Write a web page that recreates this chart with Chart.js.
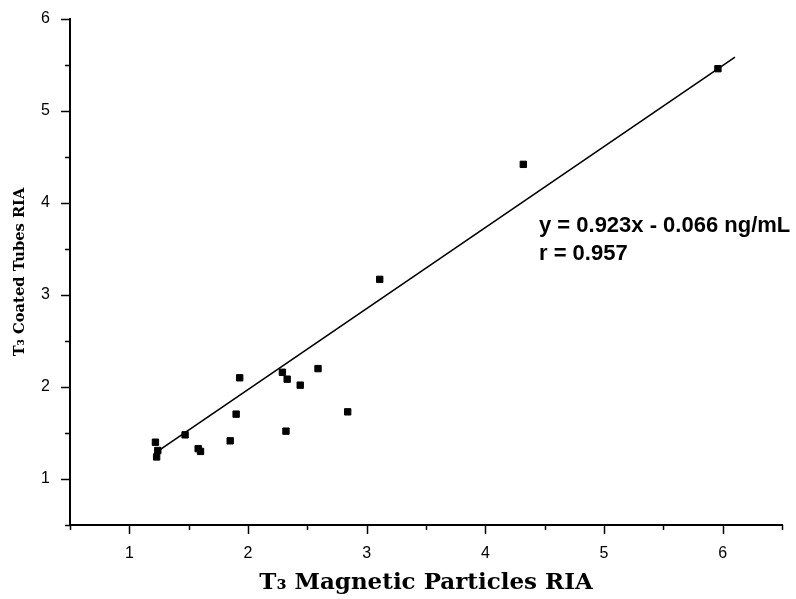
<!DOCTYPE html>
<html><head><meta charset="utf-8">
<script src="https://cdn.jsdelivr.net/npm/chart.js@4.4.1/dist/chart.umd.min.js"></script>
<style>html,body{margin:0;padding:0;background:#fff}#wrap{width:796px;height:599px}</style>
</head><body><div id="wrap"><canvas id="c" width="796" height="599"></canvas></div>
<script>
// ---- data ----
const magneticX = [1.22, 1.24, 1.23, 1.47, 1.58, 1.60, 1.85, 1.90, 1.93, 2.29, 2.33, 2.44, 2.59, 2.32, 2.84, 3.11, 4.32, 5.96];
const coatedY   = [1.40, 1.31, 1.24, 1.48, 1.33, 1.30, 1.415, 1.705, 2.10, 2.16, 2.085, 2.02, 2.20, 1.52, 1.73, 3.17, 4.42, 5.46];
const fitX = [1.228, 6.104];
const fitY = [1.293, 5.585];
const xRange = [0.5, 6.5];
const yRange = [0.5, 6];
const tickStep = 0.5;
const equationLines = ["y = 0.923x - 0.066 ng/mL", "r = 0.957"];
const equationAnchor = [4.452, 3.755, 3.45]; // x value, y value of line 1, y value of line 2
const xTitle = "T\u2083 Magnetic Particles RIA";
const yTitle = "T\u2083 Coated Tubes RIA";

const points = magneticX.map((x, i) => ({x, y: coatedY[i]}));
const fitLine = fitX.map((x, i) => ({x, y: fitY[i]}));

const tickPlugin = {
  id: 'outTicks',
  afterDraw(chart) {
    const ctx = chart.ctx;
    const xs = chart.scales.x, ys = chart.scales.y;
    ctx.save();
    ctx.strokeStyle = '#000';
    ctx.lineWidth = 1.5;
    xs.ticks.forEach(t => {
      const p = Math.round(xs.getPixelForValue(t.value)) + 0.5;
      const len = Number.isInteger(t.value) ? 9 : 5;
      ctx.beginPath(); ctx.moveTo(p, xs.top); ctx.lineTo(p, xs.top + len); ctx.stroke();
    });
    ys.ticks.forEach(t => {
      const p = Math.round(ys.getPixelForValue(t.value)) + 0.5;
      const len = Number.isInteger(t.value) ? 9 : 5;
      ctx.beginPath(); ctx.moveTo(ys.right, p); ctx.lineTo(ys.right - len, p); ctx.stroke();
    });
    // equation text
    ctx.fillStyle = '#000';
    ctx.font = 'bold 22px "Liberation Sans", Arial, sans-serif';
    ctx.textAlign = 'left';
    ctx.textBaseline = 'middle';
    const ex = xs.getPixelForValue(equationAnchor[0]);
    ctx.fillText(equationLines[0], ex, ys.getPixelForValue(equationAnchor[1]));
    ctx.fillText(equationLines[1], ex, ys.getPixelForValue(equationAnchor[2]));
    ctx.restore();
  }
};

new Chart(document.getElementById('c'), {
  type: 'scatter',
  data: {
    datasets: [
      {
        label: 'Samples',
        data: points,
        pointStyle: 'rect',
        pointRadius: 4.5,
        pointBorderWidth: 1,
        backgroundColor: '#000',
        borderColor: '#000'
      },
      {
        label: 'Fit',
        type: 'line',
        data: fitLine,
        showLine: true,
        pointRadius: 0,
        borderColor: '#000',
        borderWidth: 1.6,
        fill: false
      }
    ]
  },
  options: {
    responsive: false,
    animation: false,
    devicePixelRatio: 1,
    layout: { padding: { top: 19, right: 14, left: 0, bottom: 0 } },
    plugins: { legend: { display: false }, tooltip: { enabled: false } },
    scales: {
      x: {
        type: 'linear',
        min: xRange[0], max: xRange[1],
        afterFit: s => { s.height = 74; s.paddingLeft = 0; s.paddingRight = 0; },
        grid: { display: false, drawTicks: false },
        border: { display: true, color: '#000', width: 2 },
        ticks: {
          stepSize: tickStep,
          autoSkip: false,
          maxRotation: 0,
          padding: 19,
          color: '#000',
          font: { family: '"Liberation Sans", Arial, sans-serif', size: 16 },
          callback: v => Number.isInteger(v) ? String(v) : ''
        },
        title: {
          display: true,
          text: xTitle,
          color: '#000',
          padding: { top: 0, bottom: 2 },
          font: { family: '"DejaVu Serif", serif', size: 23, weight: 'bold' }
        }
      },
      y: {
        type: 'linear',
        min: yRange[0], max: yRange[1],
        afterFit: s => { s.width = 70; s.paddingTop = 0; s.paddingBottom = 0; },
        grid: { display: false, drawTicks: false },
        border: { display: true, color: '#000', width: 2 },
        ticks: {
          stepSize: tickStep,
          autoSkip: false,
          padding: 20,
          color: '#000',
          font: { family: '"Liberation Sans", Arial, sans-serif', size: 16 },
          callback: v => Number.isInteger(v) ? String(v) : ''
        },
        title: {
          display: true,
          text: yTitle,
          color: '#000',
          padding: { top: 11, bottom: 0 },
          font: { family: '"DejaVu Serif", serif', size: 14.7, weight: 'bold' }
        }
      }
    }
  },
  plugins: [tickPlugin]
});
</script>
</body></html>
